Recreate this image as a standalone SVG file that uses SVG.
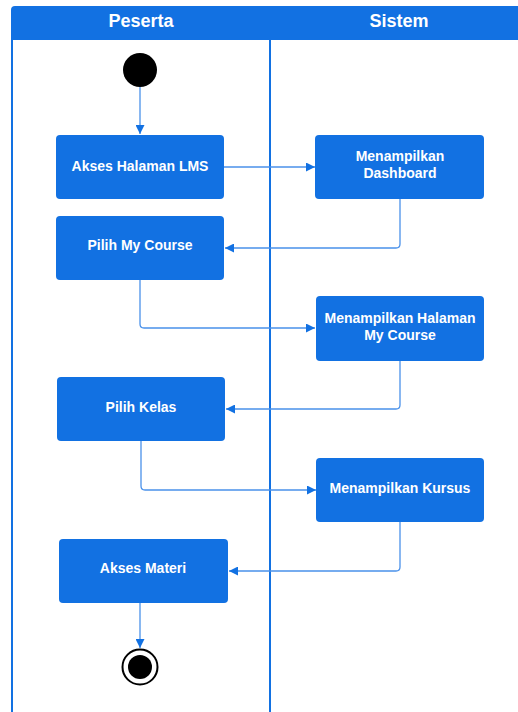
<svg xmlns="http://www.w3.org/2000/svg" width="518" height="712" viewBox="0 0 518 712">
  <style>
    .lane-head { fill: #1271e2; }
    .lane-line { stroke: #1271e2; stroke-width: 2; fill: none; }
    .head-text { font-family: "Liberation Sans", Arial, sans-serif; font-weight: bold; font-size: 18px; fill: #ffffff; text-anchor: middle; }
    .act rect { fill: #1271e2; }
    .act text { font-family: "Liberation Sans", Arial, sans-serif; font-weight: bold; font-size: 14px; fill: #ffffff; text-anchor: middle; }
    .flow { stroke: #4a91ea; stroke-width: 1.3; fill: none; marker-end: url(#arrow); stroke-linejoin: round; }
  </style>
  <defs>
    <marker id="arrow" viewBox="0 0 10 10" refX="10" refY="5" markerWidth="10" markerHeight="9" markerUnits="userSpaceOnUse" orient="auto">
      <path d="M0,0 L10,5 L0,10 Z" fill="#1271e2"/>
    </marker>
  </defs>

  <rect width="518" height="712" fill="#ffffff"/>

  <!-- swimlanes -->
  <g id="lanes">
    <path class="lane-head" d="M11,10 Q11,6 15,6 L518,6 L518,40 L11,40 Z"/>
    <text class="head-text" x="141" y="27">Peserta</text>
    <text class="head-text" x="399" y="27">Sistem</text>
    <line class="lane-line" x1="12" y1="40" x2="12" y2="712"/>
    <line class="lane-line" x1="270" y1="40" x2="270" y2="712"/>
  </g>

  <!-- connectors -->
  <g id="connectors">
    <path class="flow" d="M140,87 L140,134"/>
    <path class="flow" d="M224,167 L315,167"/>
    <path class="flow" d="M400,199 L400,244 Q400,248 396,248 L225,248"/>
    <path class="flow" d="M140,280 L140,324 Q140,328 144,328 L315,328"/>
    <path class="flow" d="M400,361 L400,405 Q400,409 396,409 L226,409"/>
    <path class="flow" d="M141,441 L141,486 Q141,490 145,490 L316,490"/>
    <path class="flow" d="M400,522 L400,567 Q400,571 396,571 L229,571"/>
    <path class="flow" d="M140,603 L140,648"/>
  </g>

  <!-- nodes -->
  <g id="start">
    <circle cx="140" cy="70" r="17" fill="#000000"/>
  </g>
  <g id="akses-halaman-lms" class="act">
    <rect x="56" y="135" width="168" height="64" rx="4"/>
    <text x="140" y="171">Akses Halaman LMS</text>
  </g>
  <g id="menampilkan-dashboard" class="act">
    <rect x="315" y="135" width="169" height="64" rx="4"/>
    <text x="400" y="161">Menampilkan</text>
    <text x="400" y="178">Dashboard</text>
  </g>
  <g id="pilih-my-course" class="act">
    <rect x="56" y="216" width="168" height="64" rx="4"/>
    <text x="140" y="250">Pilih My Course</text>
  </g>
  <g id="menampilkan-halaman-my-course" class="act">
    <rect x="316" y="296" width="168" height="65" rx="4"/>
    <text x="400" y="323">Menampilkan Halaman</text>
    <text x="400" y="340">My Course</text>
  </g>
  <g id="pilih-kelas" class="act">
    <rect x="57" y="377" width="168" height="64" rx="4"/>
    <text x="141" y="412">Pilih Kelas</text>
  </g>
  <g id="menampilkan-kursus" class="act">
    <rect x="316" y="458" width="168" height="64" rx="4"/>
    <text x="400" y="493">Menampilkan Kursus</text>
  </g>
  <g id="akses-materi" class="act">
    <rect x="59" y="539" width="169" height="64" rx="4"/>
    <text x="143" y="573">Akses Materi</text>
  </g>
  <g id="end">
    <circle cx="140" cy="667" r="17.5" fill="#ffffff" stroke="#000000" stroke-width="2"/>
    <circle cx="140" cy="667" r="12" fill="#000000"/>
  </g>
</svg>
